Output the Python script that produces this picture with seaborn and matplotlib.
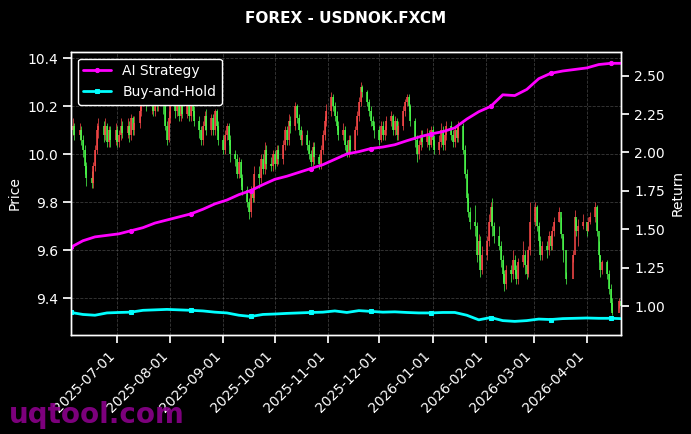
import numpy as np
import pandas as pd
import seaborn as sns
import matplotlib
matplotlib.use("Agg")
import matplotlib.pyplot as plt
import matplotlib.dates as mdates

nan = np.nan

# daily candles (business days from 2025-06-04)
close = [
    10.10, 10.12, 10.08,                 # Jun 4-6
    10.10, 10.06, 10.02, 9.95, 9.90,     # Jun 9
    9.88, 9.95, 10.02, 10.10, 10.12,     # Jun 16
    10.08, 10.12, 10.05, 10.10, 10.06,   # Jun 23
    10.10, 10.05, 10.08, 10.12, 10.09,   # Jun 30
    10.12, 10.08, 10.15, 10.10, 10.13,   # Jul 7
    10.18, 10.22, 10.26, 10.23, 10.20,   # Jul 14
    10.22, 10.18, 10.24, 10.20, 10.23,   # Jul 21
    10.20, 10.12, 10.06, 10.15, 10.20,   # Jul 28
    10.18, 10.22, 10.16, 10.20, 10.17,   # Aug 4
    10.20, 10.16, 10.22, 10.18, 10.14,   # Aug 11
    10.10, 10.06, 10.12, 10.16, 10.10,   # Aug 18
    10.15, 10.10, 10.18, 10.12, 10.06,   # Aug 25
    10.02, 10.08, 10.12, 10.06, 10.00,   # Sep 1
    9.98, 9.92, 9.97, 9.90, 9.85,        # Sep 8
    9.80, 9.76, 9.85, 9.82, 9.92,        # Sep 15
    9.90, 9.98, 9.94, 10.02, 9.96,       # Sep 22
    9.95, 10.00, 9.96, 10.02, 9.98,      # Sep 29
    10.04, 10.10, 10.06, 10.14, 10.12,   # Oct 6
    10.20, 10.15, 10.10, 10.06, 10.08,   # Oct 13
    10.04, 10.00, 9.97, 10.03, 9.99,     # Oct 20
    9.96, 10.02, 10.08, 10.14, 10.18,    # Oct 27
    10.24, 10.20, 10.16, 10.12, 10.08,   # Nov 3
    10.10, 10.04, 10.00, 10.06, 10.02,   # Nov 10
    10.10, 10.16, 10.22, 10.28, 10.26,   # Nov 17
    10.22, 10.18, 10.14, 10.12, 10.10,   # Nov 24
    10.06, 10.12, 10.08, 10.10, 10.14,   # Dec 1
    10.16, 10.10, 10.14, 10.08, 10.12,   # Dec 8
    10.18, 10.22, 10.24, 10.20, 10.14,   # Dec 15
    10.06, 10.00, 10.04, 10.08, 10.05,   # Dec 22
    10.08, 10.04, 10.10, 10.06, 10.02,   # Dec 29
    10.05, 10.10, 10.04, 10.08, 10.12,   # Jan 5
    10.08, 10.05, 10.10, 10.07, 10.12,   # Jan 12
    10.02, 9.92, 9.82, 9.76, 9.72,       # Jan 19
    9.70, 9.58, 9.64, 9.52, 9.58,        # Jan 26
    9.64, 9.72, 9.78, 9.70, 9.66,        # Feb 2
    9.62, 9.56, 9.50, 9.46, 9.52,        # Feb 9
    9.50, 9.56, 9.52, 9.48, 9.55,        # Feb 16
    9.58, 9.54, 9.50, 9.60, 9.72,        # Feb 23
    9.78, 9.70, 9.64, 9.58, 9.62,        # Mar 2
    9.60, 9.66, 9.62, 9.68, 9.72,        # Mar 9
    9.76, 9.67, 9.60, nan, 9.48,         # Mar 16
    nan, 9.58, 9.74, 9.68, 9.70,         # Mar 23
    9.72, nan, 9.68, 9.72, 9.74,         # Mar 30
    9.78, 9.68, 9.58, 9.52, 9.55,        # Apr 6
    9.50, 9.44, 9.38, 9.34, nan,         # Apr 13
    9.39, 9.37,                          # Apr 20-21
]
high = [
    10.14, 10.15, 10.13,
    10.13, 10.12, 10.08, 10.04, 9.97,
    9.93, 9.97, 10.04, 10.13, 10.15,
    10.14, 10.15, 10.13, 10.12, 10.12,
    10.13, 10.12, 10.10, 10.15, 10.14,
    10.15, 10.14, 10.17, 10.16, 10.16,
    10.20, 10.24, 10.28, 10.27, 10.25,
    10.25, 10.24, 10.26, 10.25, 10.25,
    10.25, 10.22, 10.14, 10.18, 10.23,
    10.22, 10.25, 10.24, 10.23, 10.22,
    10.23, 10.22, 10.24, 10.24, 10.20,
    10.16, 10.12, 10.14, 10.18, 10.19,
    10.17, 10.17, 10.19, 10.19, 10.14,
    10.08, 10.10, 10.13, 10.13, 10.08,
    10.02, 10.00, 9.99, 9.98, 9.92,
    9.87, 9.82, 9.87, 9.87, 9.95,
    9.95, 10.00, 10.00, 10.05, 10.04,
    9.99, 10.02, 10.02, 10.04, 10.04,
    10.06, 10.12, 10.12, 10.17, 10.16,
    10.22, 10.21, 10.17, 10.12, 10.10,
    10.10, 10.06, 10.02, 10.05, 10.05,
    10.00, 10.04, 10.10, 10.16, 10.21,
    10.26, 10.25, 10.22, 10.18, 10.14,
    10.13, 10.12, 10.06, 10.08, 10.08,
    10.12, 10.18, 10.24, 10.30, 10.29,
    10.27, 10.23, 10.20, 10.16, 10.14,
    10.12, 10.14, 10.14, 10.12, 10.16,
    10.18, 10.17, 10.16, 10.15, 10.14,
    10.20, 10.23, 10.25, 10.25, 10.21,
    10.15, 10.08, 10.06, 10.10, 10.10,
    10.11, 10.10, 10.12, 10.12, 10.08,
    10.08, 10.13, 10.12, 10.10, 10.14,
    10.14, 10.10, 10.12, 10.12, 10.14,
    10.13, 10.04, 9.94, 9.84, 9.78,
    9.79, 9.72, 9.67, 9.66, 9.62,
    9.66, 9.75, 9.80, 9.82, 9.72,
    9.70, 9.64, 9.58, 9.52, 9.54,
    9.54, 9.60, 9.58, 9.54, 9.57,
    9.64, 9.60, 9.56, 9.62, 9.80,
    9.80, 9.79, 9.72, 9.66, 9.64,
    9.64, 9.68, 9.67, 9.70, 9.74,
    9.78, 9.74, 9.66, nan, 9.51,
    nan, 9.60, 9.77, 9.73, 9.73,
    9.75, nan, 9.70, 9.74, 9.76,
    9.80, 9.79, 9.64, 9.58, 9.56,
    9.56, 9.52, 9.46, 9.40, nan,
    9.40, 9.39,
]
low = [
    10.05, 10.08, 10.06,
    10.06, 10.04, 9.99, 9.92, 9.87,
    9.86, 9.86, 9.93, 10.00, 10.07,
    10.05, 10.06, 10.03, 10.03, 10.03,
    10.04, 10.03, 10.03, 10.06, 10.07,
    10.07, 10.05, 10.06, 10.08, 10.08,
    10.11, 10.16, 10.20, 10.21, 10.18,
    10.17, 10.16, 10.16, 10.18, 10.18,
    10.17, 10.10, 10.04, 10.05, 10.13,
    10.15, 10.16, 10.14, 10.14, 10.15,
    10.15, 10.14, 10.14, 10.16, 10.12,
    10.07, 10.04, 10.04, 10.10, 10.08,
    10.08, 10.08, 10.08, 10.10, 10.04,
    10.00, 10.00, 10.06, 10.04, 9.97,
    9.95, 9.90, 9.90, 9.87, 9.83,
    9.78, 9.73, 9.74, 9.80, 9.80,
    9.86, 9.88, 9.92, 9.92, 9.94,
    9.93, 9.93, 9.94, 9.95, 9.96,
    9.96, 10.02, 10.04, 10.04, 10.09,
    10.10, 10.13, 10.08, 10.04, 10.04,
    10.02, 9.98, 9.95, 9.95, 9.96,
    9.94, 9.94, 10.00, 10.06, 10.12,
    10.16, 10.18, 10.14, 10.10, 10.06,
    10.06, 10.02, 9.99, 9.99, 10.00,
    10.01, 10.08, 10.14, 10.20, 10.24,
    10.20, 10.16, 10.12, 10.10, 10.07,
    10.04, 10.05, 10.06, 10.06, 10.08,
    10.12, 10.08, 10.08, 10.06, 10.06,
    10.10, 10.16, 10.20, 10.18, 10.12,
    10.03, 9.97, 9.98, 10.02, 10.03,
    10.03, 10.02, 10.03, 10.04, 10.00,
    10.00, 10.03, 10.02, 10.02, 10.06,
    10.06, 10.03, 10.03, 10.05, 10.05,
    10.00, 9.90, 9.80, 9.74, 9.69,
    9.66, 9.55, 9.56, 9.49, 9.50,
    9.56, 9.62, 9.70, 9.66, 9.63,
    9.60, 9.53, 9.47, 9.43, 9.44,
    9.47, 9.48, 9.50, 9.46, 9.46,
    9.53, 9.50, 9.48, 9.49, 9.58,
    9.70, 9.68, 9.62, 9.56, 9.56,
    9.57, 9.58, 9.60, 9.60, 9.66,
    9.72, 9.65, 9.55, nan, 9.46,
    nan, 9.55, 9.70, 9.66, 9.62,
    9.69, nan, 9.66, 9.68, 9.71,
    9.72, 9.66, 9.55, 9.49, 9.50,
    9.48, 9.42, 9.35, 9.33, nan,
    9.36, 9.35,
]

# cumulative returns, one reading per week (every 5th candle + last)
ai_ret = [1.383, 1.425, 1.45, 1.46, 1.47, 1.49, 1.51, 1.54, 1.56, 1.58,
          1.60, 1.63, 1.665, 1.69, 1.725, 1.752, 1.79, 1.825, 1.845, 1.87,
          1.895, 1.92, 1.955, 1.99, 2.005, 2.025, 2.035, 2.05, 2.076, 2.10,
          2.12, 2.135, 2.16, 2.217, 2.265, 2.30, 2.375, 2.37, 2.41, 2.48,
          2.515, 2.53, 2.54, 2.55, 2.572, 2.58, 2.58]
bh_ret = [0.958, 0.945, 0.94, 0.955, 0.958, 0.96, 0.972, 0.975, 0.978, 0.975,
          0.972, 0.968, 0.96, 0.955, 0.94, 0.932, 0.945, 0.948, 0.952, 0.955,
          0.958, 0.96, 0.968, 0.958, 0.97, 0.965, 0.96, 0.962, 0.958, 0.955,
          0.955, 0.958, 0.958, 0.94, 0.91, 0.925, 0.905, 0.90, 0.905, 0.915,
          0.912, 0.918, 0.92, 0.922, 0.92, 0.92, 0.918]

dates = pd.bdate_range("2025-06-04", periods=len(close))
ret_dates = dates[::5].append(dates[-1:])

sns.set_theme(style="dark", rc={
    "figure.facecolor": "black", "axes.facecolor": "black",
    "axes.edgecolor": "white", "axes.linewidth": 1.0,
    "text.color": "white", "axes.labelcolor": "white",
    "xtick.color": "white", "ytick.color": "white",
    "xtick.bottom": True, "ytick.left": True, "ytick.right": True,
    "font.size": 10, "axes.labelsize": 10, "xtick.labelsize": 10,
    "ytick.labelsize": 10, "legend.fontsize": 10,
})
plt.rcParams["font.family"] = ["DejaVu Sans"]

fig, ax = plt.subplots(figsize=(6.91, 4.34), dpi=100)
fig.subplots_adjust(left=0.1027, right=0.8987, top=0.881, bottom=0.228)

# candles: red = up, green = down
s = pd.Series(close)
prev = s.ffill().shift(1).fillna(s)
up = s >= prev
cols = np.where(up, "#ff4a4a", "#4cff4c")
ax.vlines(dates, low, high, colors=cols, linewidth=0.6, alpha=0.85)
ax.vlines(dates, np.minimum(prev, s), np.maximum(prev, s), colors=cols, linewidth=1.1)

ax.grid(True, linestyle="--", color="gray", alpha=0.45, linewidth=0.6)
ax.set_ylim(9.247, 10.428)
ax.set_ylabel("Price")

ax2 = ax.twinx()
sns.lineplot(x=ret_dates, y=ai_ret, ax=ax2, color="#ff00ff", linewidth=2,
             marker="o", markersize=3, markevery=5, markeredgecolor="#ff00ff",
             label="AI Strategy")
sns.lineplot(x=ret_dates, y=bh_ret, ax=ax2, color="#00ffff", linewidth=2,
             marker="s", markersize=3, markevery=5, markeredgecolor="#00ffff",
             label="Buy-and-Hold")
ax2.set_ylim(0.811, 2.656)
ax2.set_ylabel("Return")
ax2.grid(False)
ax2.legend(loc="upper left", facecolor="black", edgecolor="white",
           framealpha=1, labelcolor="white")

ax.set_xlim(dates[0], dates[-1])
ax.xaxis.set_major_locator(mdates.MonthLocator())
ax.xaxis.set_major_formatter(mdates.DateFormatter("%Y-%m-%d"))
plt.setp(ax.get_xticklabels(), rotation=45, ha="right", rotation_mode="default")

fig.suptitle("FOREX - USDNOK.FXCM", fontweight="bold", fontsize=11,
             color="white", y=0.975)
fig.text(0.013, 0.026, "uqtool.com", fontsize=20, fontweight="bold",
         color="#8b008b", alpha=0.9)

fig.savefig("out.png", dpi=100, facecolor="black")
